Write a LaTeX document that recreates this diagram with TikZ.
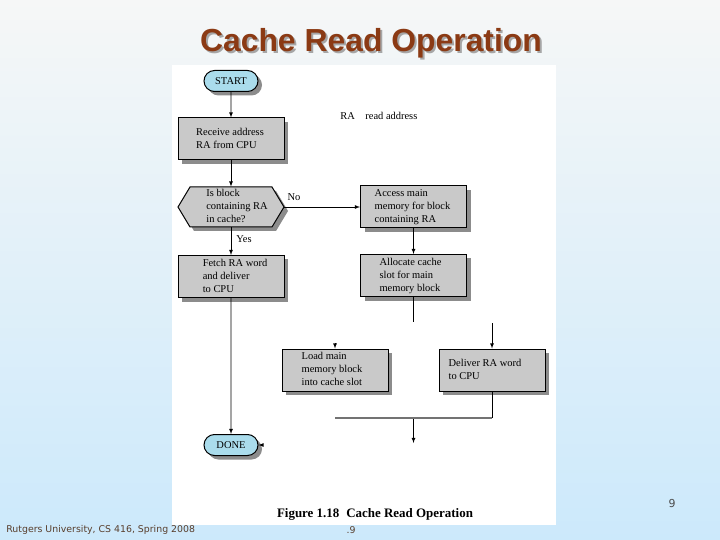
\documentclass[tikz,border=0pt]{standalone}
\usepackage{fontspec}
\setmainfont{Liberation Serif}
\newfontfamily\titlefont{Liberation Sans}
\newfontfamily\footfont{DejaVu Sans}
\usetikzlibrary{arrows,shadows,shapes.misc}
\definecolor{titlebrown}{RGB}{139,58,20}
\definecolor{boxgray}{RGB}{201,201,201}
\definecolor{termblue}{RGB}{170,220,236}
\definecolor{slideblue}{RGB}{204,233,251}
\definecolor{slidetop}{RGB}{246,247,247}
\definecolor{footbrown}{RGB}{88,62,44}
\newcommand{\boxlines}[2]{\hspace*{#1}\begin{tabular}{@{}l@{}}#2\end{tabular}}

\begin{document}
\begin{tikzpicture}[x=1bp,y=-1bp,->,>=latex,thick,font=\fontsize{10.5}{13}\selectfont,
  box shadow/.style={drop shadow={shadow xshift=4bp,shadow yshift=-4bp,fill=black!45,opacity=1}},
  proc node/.style={rectangle,draw,line width=1bp,fill=boxgray,minimum width=106bp,minimum height=42bp,inner sep=0pt,box shadow},
  term node/.style={rounded rectangle,draw,line width=1bp,fill=termblue,minimum width=54bp,minimum height=21bp,inner sep=0pt,box shadow},
  hex node/.style={rectangle,minimum width=106bp,minimum height=40bp,inner sep=0pt},
  note/.style={inner sep=0pt}]
                \useasboundingbox (0,0) rectangle (720,540);
                \shade[top color=slidetop,bottom color=slideblue] (0,0) rectangle (720,540);
                \fill[white] (172,65) rectangle (556,525);

                % title and footer of the slide
                \node[note,text=black!35] (titleshadow) at (373,45) {\titlefont\bfseries\fontsize{32}{36}\selectfont Cache Read Operation};
                \node[note,text=titlebrown] (title) at (371,43) {\titlefont\bfseries\fontsize{32}{36}\selectfont Cache Read Operation};
                \node[note,anchor=west,text=footbrown] (footer) at (6,530) {\footfont\fontsize{9.4}{11}\selectfont Rutgers University, CS 416, Spring 2008};
                \node[note,text=footbrown] (pagedot) at (351,530) {\footfont\fontsize{9.4}{11}\selectfont .9};
                \node[note,text=black!70] (pagenum) at (672,504) {\footfont\fontsize{11}{13}\selectfont 9};

                % flowchart
                \node[term node] (start) at (231,81) {START};
                \node[proc node] (receive) at (231,139) {\boxlines{-2bp}{Receive address\\RA from CPU}};
                \draw[-,line width=1bp,fill=boxgray,box shadow] (178,207) -- (190,187) -- (272,187) -- (284,207) -- (272,227) -- (190,227) -- cycle;
                \node[hex node] (incache) at (231,207) {\boxlines{12bp}{Is block\\containing RA\\in cache?}};
                \node[proc node] (access) at (413.5,207) {\boxlines{-2bp}{Access main\\memory for block\\containing RA}};
                \node[proc node] (fetch) at (231,276.5) {\boxlines{8bp}{Fetch RA word\\and deliver\\to CPU}};
                \node[proc node] (allocate) at (413.5,275.5) {\boxlines{-6bp}{Allocate cache\\slot for main\\memory block}};
                \node[proc node] (load) at (335,370) {\boxlines{-6bp}{Load main\\memory block\\into cache slot}};
                \node[proc node] (deliver) at (492,370) {\boxlines{-14bp}{Deliver RA word\\to CPU}};
                \node[term node] (done) at (231,445) {DONE};

                \node[note] (no) at (294,197) {No};
                \node[note] (yes) at (244,239) {Yes};
                \node[note,anchor=west] (ranote) at (340,116) {RA\quad read address};
                \node[note] (caption) at (375,514) {\fontsize{13}{15}\selectfont\bfseries Figure 1.18\hspace{7bp}Cache Read Operation};

                \coordinate (allocend) at (413.5,322);
                \coordinate (deliverin) at (492,323);
                \coordinate (loadin) at (335,343);
                \coordinate (joinR) at (492,418);
                \coordinate (joinL) at (335,418);
                \coordinate (mergeout) at (413.5,418);
                \coordinate (mergeend) at (413.5,443);
                \coordinate (donein) at (263,445);

                \path
                (start) edge (receive)
                (receive) edge (incache)
                (incache) edge (access)
                (incache) edge (fetch)
                (access) edge (allocate)
                (fetch) edge (done)
                (allocate) edge [-] (allocend)
                (deliverin) edge (deliver)
                (loadin) edge (load)
                (deliver) edge [-] (joinR)
                (mergeout) edge (mergeend)
                (donein) edge (done)
                ;
                \draw[-,black!55,line width=1.5bp] (joinL) -- (joinR);
\end{tikzpicture}
\end{document}
